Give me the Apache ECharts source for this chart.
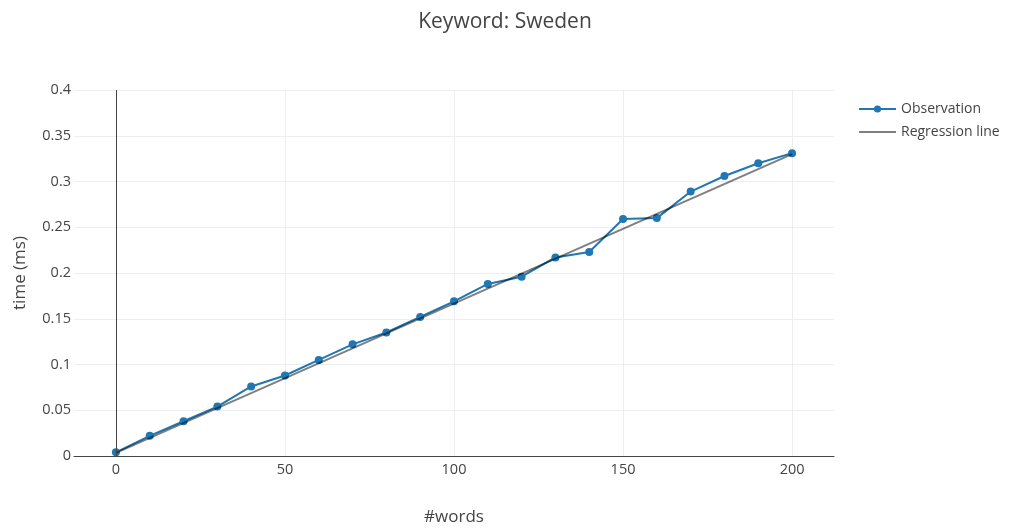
<!DOCTYPE html>
<html>
<head>
<meta charset="utf-8">
<title>Keyword: Sweden</title>
<script src="https://cdn.jsdelivr.net/npm/echarts@6/dist/echarts.min.js"></script>
<style>
  html, body { margin: 0; padding: 0; background: #fff; }
  #chart { width: 1010px; height: 531px; }
</style>
</head>
<body>
<div id="chart"></div>
<script>
// Number of words in the text
const words = [0, 10, 20, 30, 40, 50, 60, 70, 80, 90, 100, 110, 120, 130, 140, 150, 160, 170, 180, 190, 200];
// Measured lookup time (ms)
const observed = [0.004, 0.022, 0.038, 0.054, 0.076, 0.088, 0.105, 0.122, 0.135, 0.152, 0.169,
                  0.188, 0.196, 0.217, 0.223, 0.259, 0.260, 0.289, 0.306, 0.320, 0.331];
// Fitted line end points
const fitX = [0, 200];
const fitY = [0.0035, 0.330];
const xTicks = [0, 50, 100, 150, 200];

const font = '"Open Sans", "Noto Sans", sans-serif';
const textColor = '#444';

const chart = echarts.init(document.getElementById('chart'), null, { renderer: 'canvas' });

chart.setOption({
  animation: false,
  textStyle: { fontFamily: font, color: textColor },
  title: {
    text: 'Keyword: Sweden',
    left: 'center',
    top: 7,
    textStyle: { fontFamily: font, fontSize: 21, fontWeight: 'normal', color: textColor }
  },
  legend: {
    orient: 'vertical',
    left: 853,
    top: 97,
    itemWidth: 37,
    itemHeight: 9,
    itemGap: 9,
    textStyle: { fontFamily: font, fontSize: 14, color: textColor },
    data: [
      { name: 'Observation' },
      { name: 'Regression line', itemStyle: { opacity: 0 } }
    ]
  },
  grid: { left: 74, right: 176, top: 90, bottom: 74 },
  xAxis: {
    type: 'value',
    min: -12.4,
    max: 212.4,
    name: '#words',
    nameLocation: 'middle',
    nameGap: 53,
    nameTextStyle: { fontFamily: font, fontSize: 17, color: textColor },
    axisLine: { show: true, onZero: false, lineStyle: { color: '#444', width: 1 } },
    axisTick: { show: false, customValues: xTicks },
    axisLabel: { customValues: xTicks, fontFamily: font, fontSize: 14.5, color: textColor, margin: 6 },
    splitLine: { show: true, lineStyle: { color: '#eee', width: 1 } }
  },
  yAxis: {
    type: 'value',
    min: 0,
    max: 0.4,
    interval: 0.05,
    name: 'time (ms)',
    nameLocation: 'middle',
    nameGap: 45,
    nameTextStyle: { fontFamily: font, fontSize: 17, color: textColor },
    axisLine: { show: false },
    axisTick: { show: false },
    axisLabel: { fontFamily: font, fontSize: 14.5, color: textColor, margin: 3 },
    splitLine: { show: true, lineStyle: { color: '#eee', width: 1 } }
  },
  series: [
    {
      name: 'Observation',
      type: 'line',
      data: words.map((w, i) => [w, observed[i]]),
      symbol: 'circle',
      symbolSize: 8,
      showAllSymbol: true,
      itemStyle: { color: '#1f77b4' },
      lineStyle: { color: '#1f77b4', width: 2 },
      z: 2
    },
    {
      name: 'Regression line',
      type: 'line',
      data: fitX.map((x, i) => [x, fitY[i]]),
      showSymbol: false,
      symbol: 'none',
      itemStyle: { color: 'rgba(0,0,0,0.5)' },
      lineStyle: { color: 'rgba(0,0,0,0.5)', width: 2 },
      markLine: {
        silent: true,
        symbol: 'none',
        label: { show: false },
        lineStyle: { color: '#444', width: 1, type: 'solid' },
        data: [{ xAxis: 0 }]
      },
      z: 3
    }
  ]
});
</script>
</body>
</html>
